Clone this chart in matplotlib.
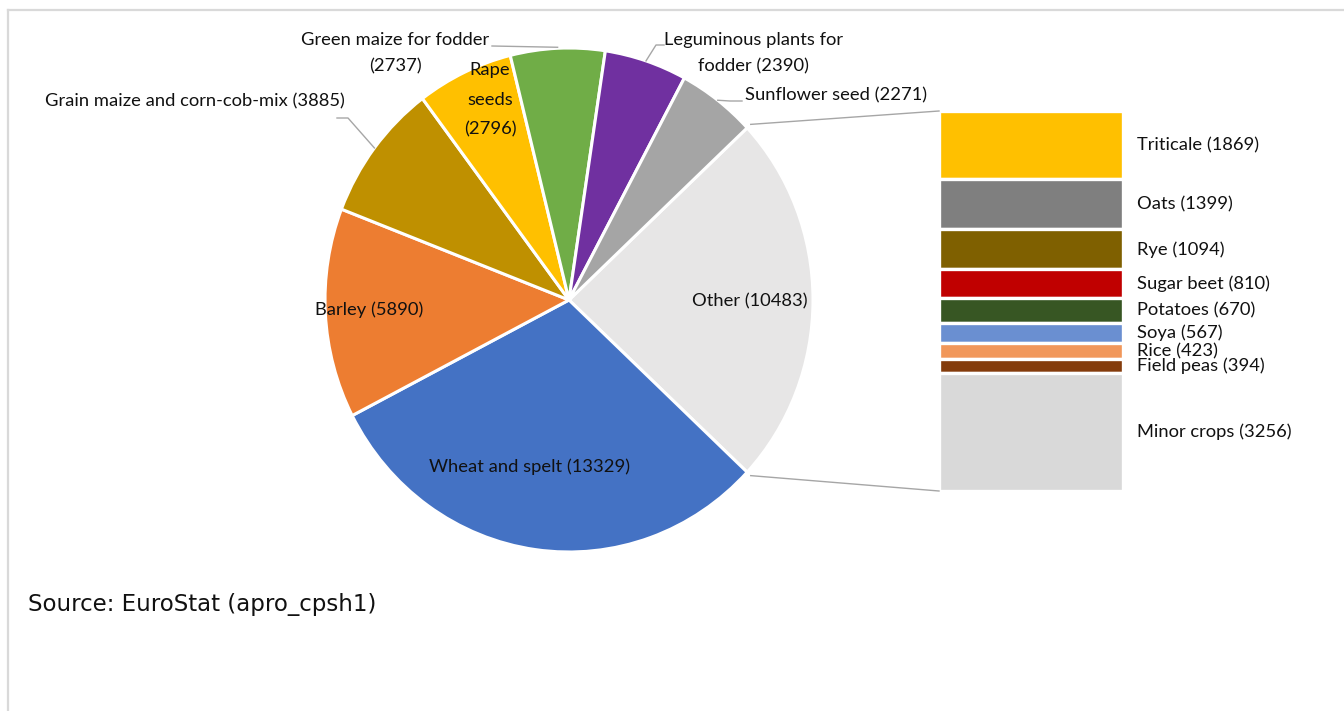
import numpy as np
import matplotlib.pyplot as plt
from matplotlib.lines import Line2D

plt.rcParams['font.family'] = ['Lato', 'DejaVu Sans']

# main pie: the first slice ("Other") is broken out into the bar on the right
pie_names = ["Other", "Wheat and spelt", "Barley", "Grain maize and corn-cob-mix",
             "Rape seeds", "Green maize for fodder", "Leguminous plants for fodder",
             "Sunflower seed"]
pie_values = [10483, 13329, 5890, 3885, 2796, 2737, 2390, 2271]
pie_colors = ["#E7E6E6", "#4472C4", "#ED7D31", "#BF9000", "#FFC000", "#70AD47",
              "#7030A0", "#A5A5A5"]

bar_names = ["Triticale", "Oats", "Rye", "Sugar beet", "Potatoes", "Soya", "Rice",
             "Field peas", "Minor crops"]
bar_values = [1869, 1399, 1094, 810, 670, 567, 423, 394, 3256]
bar_colors = ["#FFC000", "#7F7F7F", "#7F6000", "#C00000", "#375623", "#6A8FD1",
              "#F1975A", "#843C0C", "#D9D9D9"]

W, H = 1344, 711
FS = 13.2
fig = plt.figure(figsize=(W / 100, H / 100), dpi=100)


def box(left, top, right, bottom):
    # pixel box (y from top) -> figure fraction rect
    return [left / W, 1 - bottom / H, (right - left) / W, (bottom - top) / H]


# pie axes
ax_pie = fig.add_axes(box(325, 48, 813, 552))
total = sum(pie_values)
start = 360 * pie_values[0] / total / 2
wedges, _ = ax_pie.pie(pie_values, colors=pie_colors, startangle=start,
                       counterclock=False, radius=1,
                       wedgeprops=dict(edgecolor="white", linewidth=2.2))
ax_pie.set_aspect("auto")
ax_pie.set_xlim(-1, 1)
ax_pie.set_ylim(-1, 1)
ax_pie.axis("off")

# bar of "Other"
ax_bar = fig.add_axes(box(939, 111, 1123, 491))
cum = 0
for name, v, c in zip(bar_names, bar_values, bar_colors):
    ax_bar.bar(0, v, bottom=cum, width=1, color=c, edgecolor="white", linewidth=2.4)
    ax_bar.text(0.575, cum + v / 2, f"{name} ({v})", ha="left", va="center",
                fontsize=FS, color="#111111", clip_on=False)
    cum += v
ax_bar.set_xlim(-0.5, 0.5)
ax_bar.set_ylim(cum, 0)
ax_bar.axis("off")

# overlay in pixel coordinates for labels and leader lines
ov = fig.add_axes([0, 0, 1, 1], zorder=5)
ov.set_xlim(0, W)
ov.set_ylim(H, 0)
ov.axis("off")
ov.patch.set_visible(False)


def pie_point(angle, r=1.0):
    a = np.deg2rad(angle)
    p = ax_pie.transData.transform((r * np.cos(a), r * np.sin(a)))
    return ov.transData.inverted().transform(p)


def mid_angle(w):
    return (w.theta1 + w.theta2) / 2


def label(i):
    return f"{pie_names[i]} ({pie_values[i]})"


txt = dict(fontsize=FS, color="#111111", ha="center", va="center")
ov.text(750, 301, label(0), **txt)
ov.text(530, 467, label(1), **txt)
ov.text(369, 310, label(2), **txt)
ov.text(195, 101, label(3), **txt)
ov.text(490, 100, f"Rape\nseeds\n({pie_values[4]})", linespacing=2.05, **txt)
ov.text(395, 53, f"Green maize for fodder\n({pie_values[5]})", linespacing=1.8, **txt)
ov.text(754, 53, f"Leguminous plants for\nfodder ({pie_values[6]})", linespacing=1.75, **txt)
ov.text(745, 95, label(7), fontsize=FS, color="#111111", ha="left", va="center")

lead = dict(color="#A6A6A6", linewidth=1)
p = pie_point(mid_angle(wedges[3]))
ov.plot([337, 348, p[0]], [118, 118, p[1]], **lead)
p = pie_point(mid_angle(wedges[5]))
ov.plot([492, p[0]], [46, p[1] - 1], **lead)
p = pie_point(mid_angle(wedges[6]))
ov.plot([p[0], 656, 664], [p[1], 45, 45], **lead)
p = pie_point(mid_angle(wedges[7]))
ov.plot([p[0], 730, 742], [p[1], 101, 101], **lead)

# connectors from the "Other" slice to the bar
other = wedges[0]
top_pt = pie_point(other.theta2, 1.02)
bot_pt = pie_point(other.theta1, 1.02)
bar_tl = ov.transData.inverted().transform(ax_bar.transAxes.transform((0, 1)))
bar_bl = ov.transData.inverted().transform(ax_bar.transAxes.transform((0, 0)))
ov.plot([top_pt[0], bar_tl[0]], [top_pt[1], bar_tl[1]], **lead)
ov.plot([bot_pt[0], bar_bl[0]], [bot_pt[1], bar_bl[1]], **lead)

# chart border
fig.add_artist(Line2D([8 / W, 1], [1 - 10 / H, 1 - 10 / H], color="#D9D9D9", linewidth=1.6))
fig.add_artist(Line2D([8 / W, 8 / W], [0, 1 - 10 / H], color="#D9D9D9", linewidth=1.6))

fig.text(28 / W, 1 - 605 / H, "Source: EuroStat (apro_cpsh1)", fontsize=16.5,
         family="DejaVu Sans", ha="left", va="center", color="#111111")

fig.savefig("out.png", dpi=100)
